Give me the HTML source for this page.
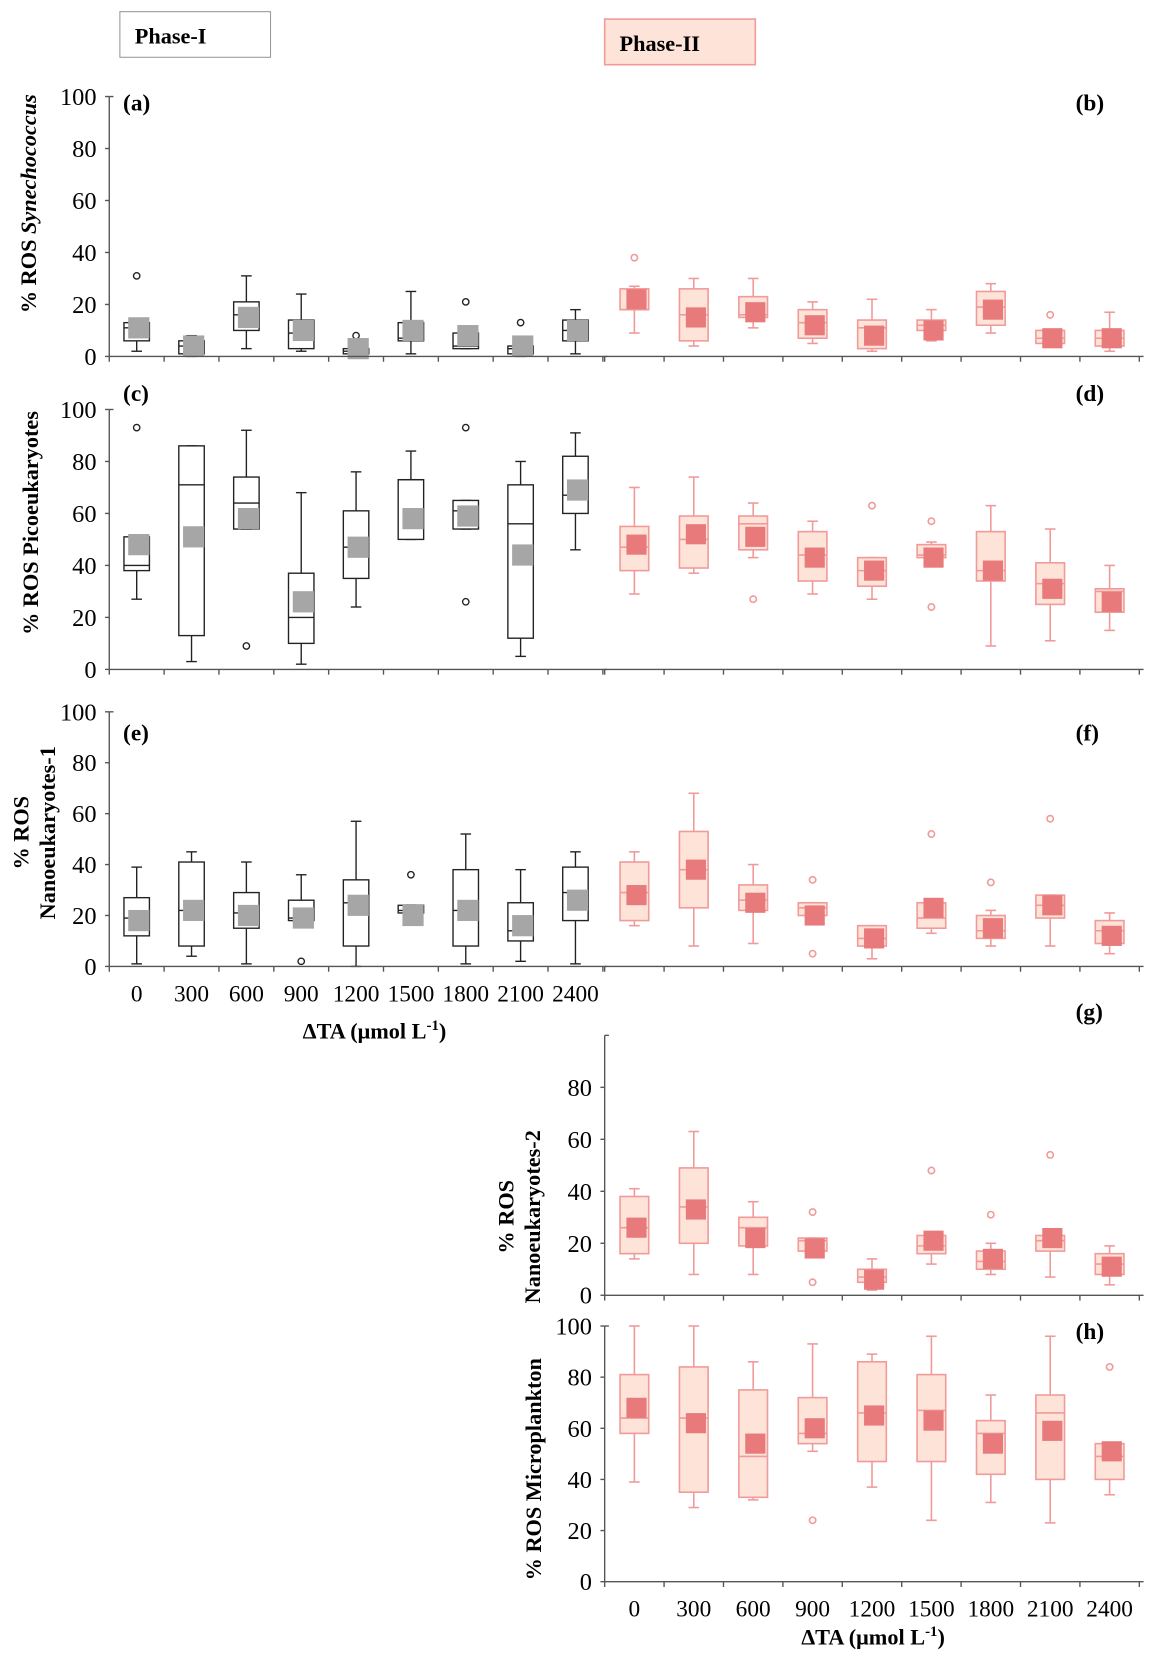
<!DOCTYPE html>
<html><head><meta charset="utf-8"><style>
html,body{margin:0;padding:0;background:#fff;}
svg{display:block;}
text{font-family:"Liberation Serif",serif;fill:#000;}
</style></head><body>
<svg id="chart" width="1151" height="1657" viewBox="0 0 1085 1562" xmlns="http://www.w3.org/2000/svg">
<g>
<rect x="113" y="11" width="142" height="43" fill="#fff" stroke="#999" stroke-width="1"/>
<text x="127" y="41" font-size="21" font-weight="bold">Phase-I</text></g>
<g>
<rect x="570" y="18" width="142" height="43" fill="#fde3d8" stroke="#f19a9a" stroke-width="1.5"/>
<text x="584" y="48" font-size="21" font-weight="bold">Phase-II</text></g>
</svg>
<script>
const categories=["0","300","600","900","1200","1500","1800","2100","2400"];
const yTicks=[0,20,40,60,80,100];
const yTicksG=[0,20,40,60,80];
// panel a
const a_low=[2,0,3,2,0,1,3,0,1], a_q1=[6,1,10,3,1,6,3,1,6], a_med=[11,4,16,9,2,7,4,3,10], a_q3=[13,6,21,14,3,13,9,4,14], a_high=[13,8,31,24,4,25,9,4,18], a_mean=[11,4,15,10,3,10,8,4,10];
const a_out=[[31],[],[],[],[8],[],[21],[13],[]];
// panel b
const b_low=[9,4,11,5,2,6,9,4,2], b_q1=[18,6,15,7,3,10,12,5,4], b_med=[18,16,16,13,11,12,19,7,7], b_q3=[26,26,23,18,14,14,25,10,10], b_high=[27,30,30,21,22,18,28,10,17], b_mean=[22,15,17,12,8,10,18,7,7];
const b_out=[[38],[],[],[],[],[],[],[16],[]];
// panel c
const c_low=[27,3,54,2,24,50,54,5,46], c_q1=[38,13,54,10,35,50,54,12,60], c_med=[40,71,64,20,47,73,61,56,67], c_q3=[51,86,74,37,61,73,65,71,82], c_high=[51,86,92,68,76,84,65,80,91], c_mean=[48,51,58,26,47,58,59,44,69];
const c_out=[[93],[],[9],[],[],[],[93,26],[],[]];
// panel d
const d_low=[29,37,43,29,27,43,9,11,15], d_q1=[38,39,46,34,32,43,34,25,22], d_med=[47,50,56,44,38,44,38,33,30], d_q3=[55,59,59,53,43,48,53,41,31], d_high=[70,74,64,57,43,49,63,54,40], d_mean=[48,52,51,43,38,43,38,31,26];
const d_out=[[],[],[27],[],[63],[57,24],[],[],[]];
// panel e
const e_low=[1,4,1,18,0,21,1,2,1], e_q1=[12,8,15,18,8,21,8,10,18], e_med=[19,22,21,19,25,22,22,14,29], e_q3=[27,41,29,26,34,24,38,25,39], e_high=[39,45,41,36,57,24,52,38,45], e_mean=[18,22,20,19,24,20,22,16,26];
const e_out=[[],[],[],[2],[],[36],[],[],[]];
// panel f
const f_low=[16,8,9,20,3,13,8,8,5], f_q1=[18,23,22,20,8,15,11,19,9], f_med=[29,38,26,23,11,19,14,24,14], f_q3=[41,53,32,25,16,25,20,28,18], f_high=[45,68,40,25,16,25,22,28,21], f_mean=[28,38,25,20,11,23,15,24,12];
const f_out=[[],[],[],[34,5],[],[52],[33],[58],[]];
// panel g
const g_low=[14,8,8,17,2,12,8,7,4], g_q1=[16,20,19,17,5,16,10,17,8], g_med=[26,34,26,21,7,19,13,21,12], g_q3=[38,49,30,22,10,23,17,23,16], g_high=[41,63,36,22,14,23,20,23,19], g_mean=[26,33,22,18,6,21,14,22,11];
const g_out=[[],[],[],[32,5],[],[48],[31],[54],[]];
// panel h
const h_low=[39,29,32,51,37,24,31,23,34], h_q1=[58,35,33,54,47,47,42,40,40], h_med=[64,64,49,58,66,67,58,66,49], h_q3=[81,84,75,72,86,81,63,73,54], h_high=[100,100,86,93,89,96,73,96,54], h_mean=[68,62,54,60,65,63,54,59,51];
const h_out=[[],[],[],[24],[],[],[],[],[84]];

const NS="http://www.w3.org/2000/svg";
const svg=document.getElementById('chart');
function mk(tag,attrs,parent){const e=document.createElementNS(NS,tag);for(const k in attrs)e.setAttribute(k,attrs[k]);(parent||svg).appendChild(e);return e;}

const phase1={x0:103,band:51.7,boxW:24,sq:20,stroke:"#222",fill:"#fff",mean:"#a6a6a6",sw:1.3};
const phase2={x0:570,band:56,boxW:27,sq:19,stroke:"#f19a9a",fill:"#fde3d8",mean:"#e87a7c",sw:1.5};

function panel(name,ph,y0,y100,low,q1,med,q3,high,mean,out){
  const g=mk('g',{});
  
  
  const ys=v=>y0-(y0-y100)*v/100;
  const xs=i=>ph.x0+ph.band*(i+0.5);
  for(let i=0;i<categories.length;i++){
    const bx=mk('g',{},g);
    
    
    const cx=xs(i),hw=ph.boxW/2;
    const st={stroke:ph.stroke,'stroke-width':ph.sw};
    mk('line',Object.assign({x1:cx,x2:cx,y1:ys(high[i]),y2:ys(q3[i])},st),bx);
    mk('line',Object.assign({x1:cx,x2:cx,y1:ys(low[i]),y2:ys(q1[i])},st),bx);
    mk('line',Object.assign({x1:cx-5,x2:cx+5,y1:ys(high[i]),y2:ys(high[i])},st),bx);
    mk('line',Object.assign({x1:cx-5,x2:cx+5,y1:ys(low[i]),y2:ys(low[i])},st),bx);
    mk('rect',Object.assign({x:cx-hw,y:ys(q3[i]),width:ph.boxW,height:Math.max(1,ys(q1[i])-ys(q3[i])),fill:ph.fill},st),bx);
    mk('line',Object.assign({x1:cx-hw,x2:cx+hw,y1:ys(med[i]),y2:ys(med[i])},st),bx);
    out[i].forEach(o=>{mk('circle',Object.assign({cx:cx,cy:ys(o),r:3,fill:'none'},st),bx);});
    const m=mk('rect',{x:cx-ph.sq/2+2,y:ys(mean[i])-ph.sq/2,width:ph.sq,height:ph.sq,fill:ph.mean},bx);
    
    
  }
  const ax=mk('g',{},g);
  
  
  const x1=ph.x0+ph.band*categories.length;
  mk('line',{x1:ph.x0,x2:x1+4,y1:y0,y2:y0,stroke:'#555','stroke-width':1.3},ax);
  for(let i=0;i<=categories.length;i++){
    const tx=ph.x0+ph.band*i;
    mk('line',{x1:tx,x2:tx,y1:y0,y2:y0+5,stroke:'#555','stroke-width':1.3},ax);
  }
}
function yAxis(name,x,y0,y100,ticks){
  const g=mk('g',{});
  
  
  const ys=v=>y0-(y0-y100)*v/100;
  mk('line',{x1:x,x2:x,y1:y100,y2:y0,stroke:'#555','stroke-width':1.3},g);
  mk('line',{x1:x,x2:x+4,y1:y100,y2:y100,stroke:'#555','stroke-width':1.3},g);
  ticks.forEach(t=>{
    mk('line',{x1:x-4,x2:x,y1:ys(t),y2:ys(t),stroke:'#555','stroke-width':1.3},g);
    const tx=mk('text',{x:x-12,y:ys(t)+8,'font-size':23,'text-anchor':'end'},g);
    tx.textContent=t;
  });
}
function label(txt,x,y){const t=mk('text',{x:x,y:y,'font-size':22,'font-weight':'bold'});t.textContent=txt;
  
  }
function xLabels(name,ph,y){const g=mk('g',{});
  
  
  categories.forEach((c,i)=>{const t=mk('text',{x:ph.x0+ph.band*(i+0.5),y:y,'font-size':22,'text-anchor':'middle'},g);t.textContent=c;});}
function ytitle(name,lines,x,y){const t=mk('text',{transform:`translate(${x},${y}) rotate(-90)`,'font-size':21,'font-weight':'bold','text-anchor':'middle'});
  
  
  lines.forEach((l,i)=>{const s=mk('tspan',{x:0,dy:i?25:0},t);s.innerHTML=l;});}

yAxis('y-axis-a',103,336,91,yTicks);
panel('panel-a',phase1,336,91,a_low,a_q1,a_med,a_q3,a_high,a_mean,a_out);
panel('panel-b',phase2,336,91,b_low,b_q1,b_med,b_q3,b_high,b_mean,b_out);
yAxis('y-axis-c',103,631,386,yTicks);
panel('panel-c',phase1,631,386,c_low,c_q1,c_med,c_q3,c_high,c_mean,c_out);
panel('panel-d',phase2,631,386,d_low,d_q1,d_med,d_q3,d_high,d_mean,d_out);
yAxis('y-axis-e',103,911,671,yTicks);
panel('panel-e',phase1,911,671,e_low,e_q1,e_med,e_q3,e_high,e_mean,e_out);
panel('panel-f',phase2,911,671,f_low,f_q1,f_med,f_q3,f_high,f_mean,f_out);
yAxis('y-axis-g',570,1221,976,yTicksG);
panel('panel-g',phase2,1221,976,g_low,g_q1,g_med,g_q3,g_high,g_mean,g_out);
yAxis('y-axis-h',570,1491,1250,yTicks);
panel('panel-h',phase2,1491,1250,h_low,h_q1,h_med,h_q3,h_high,h_mean,h_out);

label('(a)',116,104);label('(b)',1014,104);
label('(c)',116,378);label('(d)',1014,378);
label('(e)',116,698);label('(f)',1014,698);
label('(g)',1014,961);label('(h)',1014,1262);

xLabels('x-tick-labels-phase1',phase1,944);
xLabels('x-tick-labels-phase2',phase2,1524);
const xt1=mk('text',{x:353,y:979,'font-size':21,'font-weight':'bold','text-anchor':'middle'});


xt1.innerHTML='ΔTA (μmol L<tspan dy="-8" font-size="14">-1</tspan><tspan dy="8">)</tspan>';
const xt2=mk('text',{x:823,y:1550,'font-size':21,'font-weight':'bold','text-anchor':'middle'});


xt2.innerHTML='ΔTA (μmol L<tspan dy="-8" font-size="14">-1</tspan><tspan dy="8">)</tspan>';

ytitle('y-axis-title-a',['% ROS <tspan font-style="italic">Synechococcus</tspan>'],34,192);
ytitle('y-axis-title-c',['% ROS Picoeukaryotes'],36,493);
ytitle('y-axis-title-e',['% ROS','Nanoeukaryotes-1'],27,785);
ytitle('y-axis-title-g',['% ROS','Nanoeukaryotes-2'],484,1147);
ytitle('y-axis-title-h',['% ROS Microplankton'],510,1385);
</script>
</body></html>
